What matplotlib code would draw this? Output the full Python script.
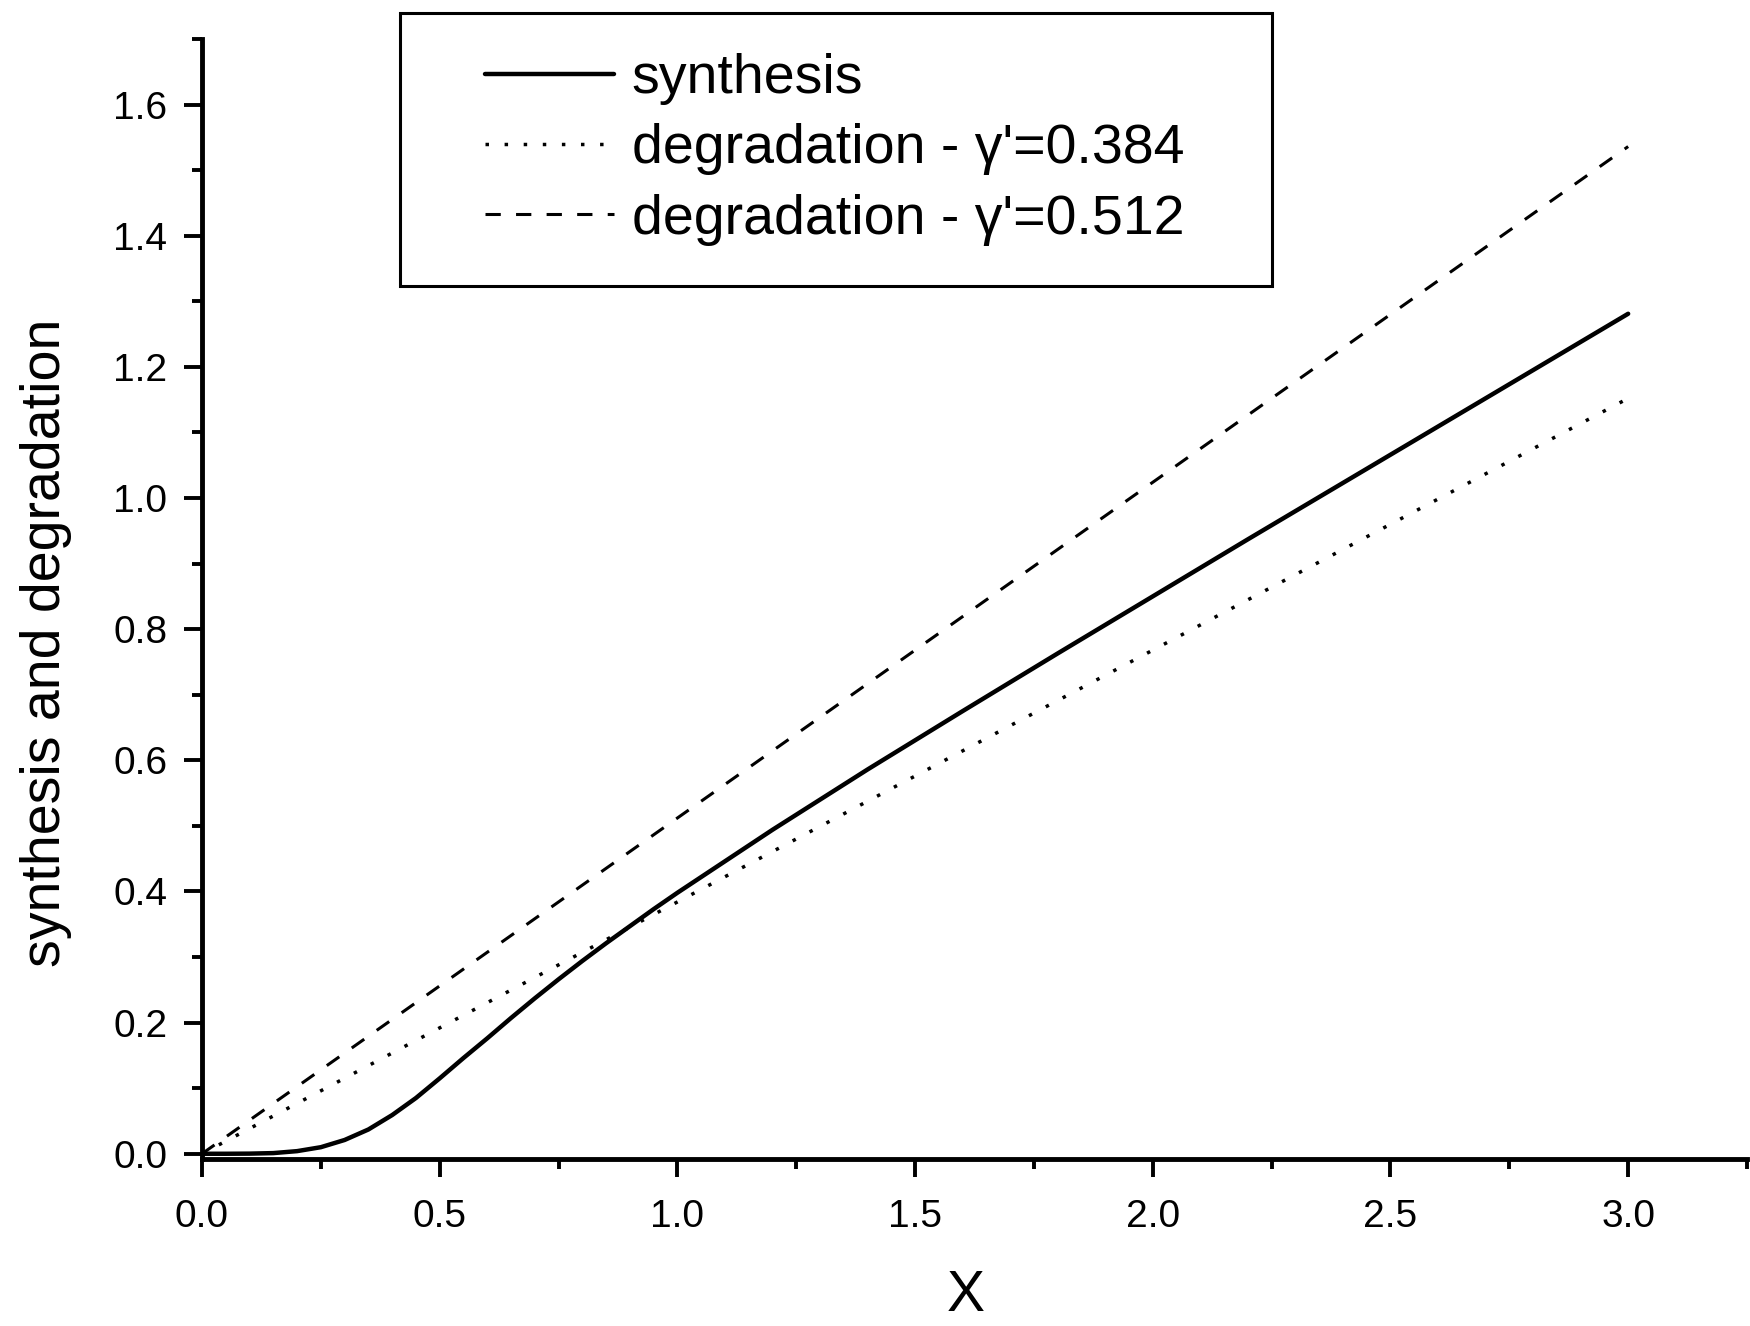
import matplotlib
matplotlib.use("Agg")
import matplotlib.pyplot as plt
from matplotlib.patches import Rectangle
from matplotlib.ticker import MultipleLocator

plt.rcParams['font.family'] = ['Liberation Sans', 'DejaVu Sans']

# synthesis curve
x_syn = [0.0, 0.05, 0.1, 0.15, 0.2, 0.25, 0.3, 0.35, 0.4, 0.45, 0.5, 0.55,
         0.6, 0.65, 0.7, 0.75, 0.8, 0.85, 0.9, 0.95, 1.0, 1.1, 1.2, 1.3,
         1.4, 1.6, 1.8, 2.0, 2.2, 2.4, 2.6, 2.8, 3.0]
y_syn = [0.0, 0.0, 0.0002, 0.001, 0.004, 0.010, 0.021, 0.037, 0.059, 0.085,
         0.115, 0.146, 0.176, 0.207, 0.237, 0.266, 0.294, 0.321, 0.347,
         0.373, 0.398, 0.446, 0.494, 0.540, 0.586, 0.675, 0.763, 0.850,
         0.937, 1.023, 1.109, 1.195, 1.281]

# degradation lines (straight)
x_deg = [0.0, 3.0]
y_deg_384 = [0.0, 1.152]
y_deg_512 = [0.0, 1.536]

labels = ["synthesis", "degradation - \u03b3'=0.384", "degradation - \u03b3'=0.512"]

fig = plt.figure(figsize=(17.5, 13.26), dpi=100)
ax = fig.add_axes([202 / 1750, 1 - 1159 / 1326, 1545 / 1750, 1120 / 1326])

ax.plot(x_syn, y_syn, color='black', lw=3.2, solid_capstyle='round',
        solid_joinstyle='round', label=labels[0])
ax.plot(x_deg, y_deg_384, color='black', lw=2.5, linestyle=(0, (1, 4.5)), label=labels[1])
ax.plot(x_deg, y_deg_512, color='black', lw=2.2, linestyle=(0, (5, 5)), label=labels[2])

ax.set_xlim(0, 3.25)
ax.set_ylim(-0.008, 1.70)

ax.xaxis.set_major_locator(MultipleLocator(0.5))
ax.xaxis.set_minor_locator(MultipleLocator(0.25))
ax.yaxis.set_major_locator(MultipleLocator(0.2))
ax.yaxis.set_minor_locator(MultipleLocator(0.1))
ax.xaxis.set_major_formatter(plt.FuncFormatter(lambda v, p: f"{v:.1f}"))
ax.yaxis.set_major_formatter(plt.FuncFormatter(lambda v, p: f"{v:.1f}"))

for s in ['top', 'right']:
    ax.spines[s].set_visible(False)
for s in ['left', 'bottom']:
    ax.spines[s].set_linewidth(3.5)

ax.tick_params(which='major', direction='out', length=13, width=2.8, labelsize=28)
ax.tick_params(which='minor', direction='out', length=7, width=2.8)
ax.tick_params(axis='y', which='major', pad=12)
ax.tick_params(axis='x', which='major', pad=16)

ax.set_xlabel("X", fontsize=41, va='baseline')
ax.set_ylabel("synthesis and degradation", fontsize=40)
ax.xaxis.set_label_coords(0.494, -0.136)
ax.yaxis.set_label_coords(-0.084, 0.461)

leg = ax.legend(loc='upper left', bbox_to_anchor=(485 / 1750, 1 - 53 / 1326),
                bbox_transform=fig.transFigure, frameon=False, fontsize=40,
                borderpad=0, borderaxespad=0, handlelength=2.32,
                handletextpad=0.32, labelspacing=0.33)

fig.patches.append(Rectangle((400 / 1750, 1 - 286 / 1326), 872 / 1750, 273 / 1326,
                             transform=fig.transFigure, fill=False,
                             edgecolor='black', lw=2.2))

fig.savefig("out.png", dpi=100, facecolor='white')
